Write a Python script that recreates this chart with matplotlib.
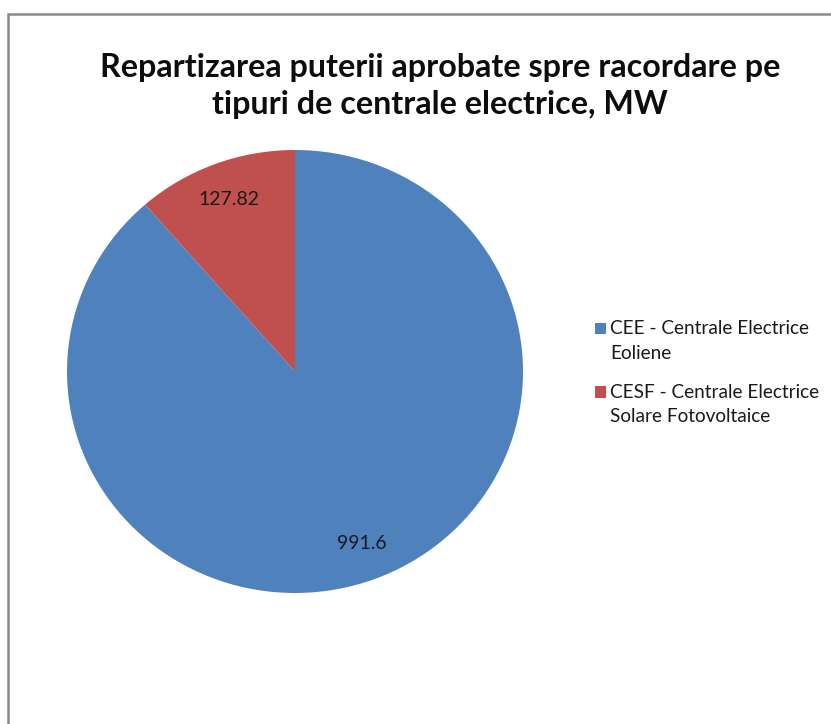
import matplotlib
matplotlib.use("Agg")
import matplotlib.pyplot as plt
from matplotlib.patches import Rectangle
from matplotlib.legend_handler import HandlerPatch
from matplotlib.patches import Wedge

plt.rcParams['font.family'] = ['Lato', 'DejaVu Sans']

categories = ["CEE - Centrale Electrice\nEoliene",
              "CESF - Centrale Electrice\nSolare Fotovoltaice"]
values = [991.6, 127.82]
colors = ["#4F81BD", "#C0504D"]
title = "Repartizarea puterii aprobate spre racordare pe\ntipuri de centrale electrice, MW"

W, H = 831, 724
fig = plt.figure(figsize=(W / 100, H / 100), dpi=100)

# frame border
fig.patches.append(Rectangle((8 / W, -0.05), 1.2, 1 + 0.05 - 14 / H,
                             transform=fig.transFigure, fill=False,
                             edgecolor="#8a8a8a", linewidth=1.8))

ax = fig.add_axes([67 / W, (H - 593) / H, 456 / W, 443 / H])
total = sum(values)
wedges, texts, autotexts = ax.pie(
    values, colors=colors, startangle=90, counterclock=False,
    autopct=lambda p: f"{round(p * total / 100, 2):g}",
    pctdistance=0.83, radius=1,
    textprops=dict(fontsize=14, color="#1a1a1a"))
ax.set_aspect('auto')
ax.set_xlim(-1, 1)
ax.set_ylim(-1, 1)

fig.text(440 / W, 1 - 86 / H, title, ha="center", va="center",
         fontsize=23.2, fontweight="bold", linespacing=1.3, color="#0d0d0d")


def top_square(legend, orig_handle, xdescent, ydescent, width, height, fontsize):
    # square marker aligned with the first line of a two-line label
    return Rectangle((-xdescent, -ydescent + 0.68 * fontsize), width, height)


leg = fig.legend(wedges, categories, loc="upper left",
                 bbox_to_anchor=(578 / W, 1 - 303 / H), frameon=False,
                 fontsize=13.7, handlelength=0.55, handleheight=0.55,
                 handletextpad=0.25, labelspacing=1.15, labelcolor="#1a1a1a",
                 handler_map={Wedge: HandlerPatch(patch_func=top_square)})
for t in leg.get_texts():
    t.set_linespacing(1.55)

fig.savefig("out.png", dpi=100)
